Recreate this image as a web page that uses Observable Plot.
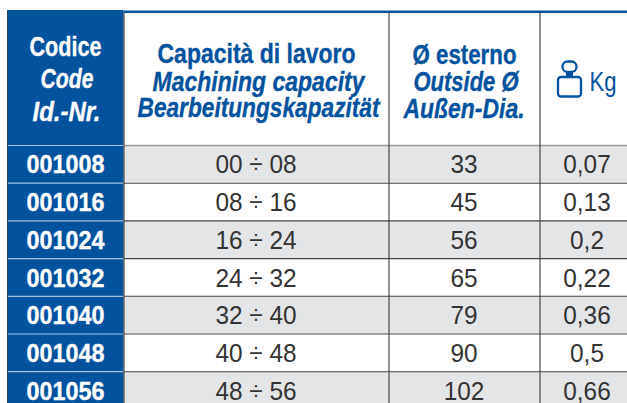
<!DOCTYPE html>
<html><head><meta charset="utf-8">
<script src="https://cdn.jsdelivr.net/npm/d3@7"></script>
<script src="https://cdn.jsdelivr.net/npm/@observablehq/plot@0.6"></script>
<style>
html,body{margin:0;padding:0;background:#fff;overflow:hidden}
svg{display:block}
text{font-family:"Liberation Sans",sans-serif}
g.hc text,g.code text{stroke:#fff;stroke-width:.35px}
g.hcap text,g.hout text{stroke:#03529e;stroke-width:.35px}
</style></head><body>
<script>
const codes = ["001008","001016","001024","001032","001040","001048","001056"];
const capacity = ["00 ÷ 08","08 ÷ 16","16 ÷ 24","24 ÷ 32","32 ÷ 40","40 ÷ 48","48 ÷ 56"];
const outside = ["33","45","56","65","79","90","102"];
const weight = ["0,07","0,13","0,2","0,22","0,36","0,5","0,66"];
const headCode = ["Codice","Code","Id.-Nr."];
const headCapacity = ["Capacità di lavoro","Machining capacity","Bearbeitungskapazität"];
const headOutside = ["Ø esterno","Outside Ø","Außen-Dia."];
const headWeight = "Kg";

// layout
const X = [7,123.5,388.5,539.5,627], mid = [65,255.5,463.5,586.5];
const topY = 11.3, headBot = 145, rowH = 37.7;
const rowTop = i => headBot + i*rowH;
const rows = codes.map((c,i)=>({c,cap:capacity[i],o:outside[i],w:weight[i],i}));
const blue = "#03529e", ink = "#333333", rule = "#3a3a3a";
const place = (arr,xs,ys,ws)=>arr.map((t,i)=>({t,x:xs[i],y:ys[i],w:ws[i],i}));
const hc = place(headCode,[65,66.5,66],[46.5,79,111.5],[72,53,68]);
const hCap = place(headCapacity,[256,258,258],[53.5,81.5,108],[198,212,242]);
const hOut = place(headOutside,[464,465.5,463.5],[54.5,81.5,108.5],[104,105,121]);
const headMarks = (list,fill,size,pre)=>[
  Plot.text(list.filter(d=>d.i==0),{x:"x",y:"y",text:"t",fill,fontWeight:"bold",fontSize:size,className:pre}),
  Plot.text(list.filter(d=>d.i>0),{x:"x",y:"y",text:"t",fill,fontWeight:"bold",fontStyle:"italic",fontSize:size,className:pre})
];

const chart = Plot.plot({
  width:627,height:403,margin:0,
  x:{type:"identity",axis:null},y:{type:"identity",axis:null},
  style:{background:"#fff"},
  marks:[
    Plot.rect(rows.filter(d=>d.i%2==0),{x1:X[1],x2:X[4],y1:d=>rowTop(d.i),y2:d=>rowTop(d.i+1),fill:"#e4e5e7"}),
    Plot.rect([0],{x1:X[0],x2:X[1],y1:10,y2:403,fill:blue}),
    Plot.ruleY([topY],{x1:X[1],x2:X[4],stroke:blue,strokeWidth:2.5}),
    Plot.ruleY(rows,{y:d=>rowTop(d.i),x1:X[1],x2:X[4],stroke:d=>d.i==0?"#9a9a9a":"#484848",strokeWidth:d=>d.i==0?1.4:1.1}),
    Plot.ruleY(rows,{y:d=>rowTop(d.i),x1:X[0],x2:X[1],stroke:"#a9c3df",strokeWidth:1.2}),
    Plot.ruleX([X[0]],{y1:topY,y2:403,stroke:"#34465c",strokeWidth:1}),
    Plot.ruleX(X.slice(1,4),{y1:topY+1,y2:403,stroke:rule,strokeWidth:1.1}),
    ...headMarks(hc,"#fff",28,"hc"),
    ...headMarks(hCap,blue,27.5,"hcap"),
    ...headMarks(hOut,blue,27.5,"hout"),
    // weight icon
    Plot.rect([0],{x1:558,x2:581,y1:77,y2:96.5,rx:3,fill:"none",stroke:blue,strokeWidth:2.3}),
    Plot.rect([0],{x1:562.5,x2:576.5,y1:61.5,y2:72,rx:5,fill:"none",stroke:blue,strokeWidth:2.3}),
    Plot.rect([0],{x1:566,x2:573,y1:71,y2:77,fill:blue}),
    Plot.text([headWeight],{x:602.5,y:82,text:d=>d,fill:blue,fontSize:27,className:"kg"}),
    Plot.text(rows,{x:mid[0],y:d=>rowTop(d.i)+19.5,text:"c",fill:"#fff",fontWeight:"bold",fontSize:26.5,className:"code"}),
    Plot.text(rows,{x:mid[1],y:d=>rowTop(d.i)+19.5,text:"cap",fill:ink,fontSize:26.5,className:"body"}),
    Plot.text(rows,{x:mid[2],y:d=>rowTop(d.i)+19.5,text:"o",fill:ink,fontSize:26.5,className:"body"}),
    Plot.text(rows,{x:mid[3],y:d=>rowTop(d.i)+19.5,text:"w",fill:ink,fontSize:26.5,className:"body"})
  ]
});
document.body.appendChild(chart);

// Condense the installed sans to the reference's narrow face.
const fit = (sel,len)=>d3.select(chart).selectAll(sel).each(function(_,i){
  this.setAttribute("lengthAdjust","spacingAndGlyphs");
  this.setAttribute("textLength",len(this,i));
});
const byList = list=>{const m=new Map(list.map(d=>[d.t,d.w]));return el=>m.get(el.textContent);};
[["hc",hc],["hcap",hCap],["hout",hOut]].forEach(([c,l])=>{const g=byList(l);fit(`g.${c} text`,el=>g(el));});
fit("g.code text",()=>78);
fit("g.body text",el=>el.getComputedTextLength()*0.92);
fit("g.kg text",()=>27);
</script></body></html>
